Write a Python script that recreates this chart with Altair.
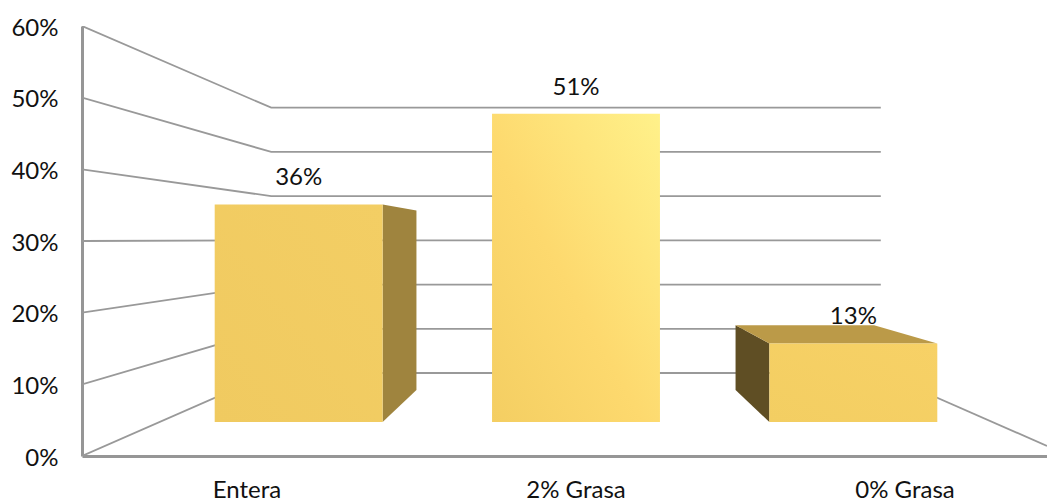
import altair as alt
import pandas as pd

categories = ["Entera", "2% Grasa", "0% Grasa"]
values = [36, 51, 13]
category_centres = [-329, 0, 329]
grid_values = [0, 10, 20, 30, 40, 50, 60]

# simple perspective: depth d in 0..1 shrinks everything toward the vanishing point
SHRINK = 0.383
FLOOR_RISE = 11.58
WALL = 494
RIGHT_EDGE = 471
BAR_HALF = 99.6
D_FRONT = 0.41
D_BACK = 0.795
HORIZON = FLOOR_RISE / SHRINK
FONT = "Lato"
GREY = "#999999"


def px(u, d):
    return u * (1 - SHRINK * d)


def py(v, d):
    return FLOOR_RISE * d + v * (1 - SHRINK * d)


x_scale = alt.Scale(domain=[-WALL, RIGHT_EDGE], zero=False, nice=False)
y_scale = alt.Scale(domain=[0, 60], zero=False, nice=False)
x_axis = alt.Axis(labels=False, ticks=False, grid=False, title=None,
                  domainColor="#969696", domainWidth=3)
y_axis = alt.Axis(values=grid_values, labelExpr="datum.value + '%'", ticks=False,
                  grid=False, title=None, domainColor="#969696", domainWidth=3,
                  labelFont=FONT, labelFontSize=24, labelColor="#111111",
                  labelPadding=24, labelOffset=2, labelFontWeight="normal")
X = alt.X("x:Q", scale=x_scale, axis=x_axis)
Y = alt.Y("y:Q", scale=y_scale, axis=y_axis)

# walls and floor
wall_rows = []
for v in grid_values:
    wall_rows += [
        {"g": v, "x": px(-WALL, 0), "y": py(v, 0)},
        {"g": v, "x": px(-WALL, 1), "y": py(v, 1)},
        {"g": v, "x": px(WALL, 1), "y": py(v, 1)},
    ]
wall_rows += [
    {"g": "r", "x": px(WALL, 1), "y": py(0, 1)},
    {"g": "r", "x": RIGHT_EDGE, "y": FLOOR_RISE * (WALL - RIGHT_EDGE) / (WALL * SHRINK)},
]
walls = alt.Chart(pd.DataFrame(wall_rows)).mark_line(
    color=GREY, strokeWidth=1.8, clip=True
).encode(x=X, y=Y, detail="g:N", order=alt.Order("x:Q"))


def fill(*stops):
    return alt.LinearGradient(
        gradient="linear", x1=0, y1=1, x2=1, y2=0,
        stops=[alt.GradientStop(color=c, offset=o) for c, o in stops],
    )


bar_fills = [
    fill(("#F0CA60", 0), ("#F3CE64", 1)),
    fill(("#F4CE62", 0), ("#FDD96E", 0.45), ("#FFF18A", 1)),
    fill(("#F3CE62", 0), ("#F7D166", 1)),
]

layers = [walls]
labels = []
for cat, val, cu, bar_fill in zip(categories, values, category_centres, bar_fills):
    ul, ur = cu - BAR_HALF, cu + BAR_HALF
    # side faces
    for edge, show in ((ur, ur < 0), (ul, ul > 0)):
        if show:
            side = pd.DataFrame([
                {"x": px(edge, d), "y": py(val, d), "y2": py(0, d)} for d in (D_FRONT, D_BACK)
            ])
            layers.append(alt.Chart(side).mark_area(
                color="#9F843E" if edge == ur else "#5F4E24"
            ).encode(x=X, y=Y, y2="y2:Q"))
    # top face
    if val < HORIZON:
        top = pd.DataFrame([
            {"y": py(val, d), "x": px(ul, d), "x2": px(ur, d)} for d in (D_FRONT, D_BACK)
        ])
        layers.append(alt.Chart(top).mark_area(color="#BB9A48", orient="horizontal").encode(
            y=Y, x=X, x2="x2:Q"))
    # front face
    front = pd.DataFrame([{
        "x": px(ul, D_FRONT), "x2": px(ur, D_FRONT), "y": py(val, D_FRONT), "y2": py(0, D_FRONT)
    }])
    layers.append(alt.Chart(front).mark_rect(color=bar_fill).encode(
        x=X, x2="x2:Q", y=Y, y2="y2:Q"))
    labels.append({"t": f"{val}%", "x": px(cu, D_FRONT), "y": py(val, D_FRONT), "c": cat,
                   "cx": cu, "cy": 0})

lab = pd.DataFrame(labels)
value_text = alt.Chart(lab).mark_text(
    font=FONT, fontSize=24, color="#111111", dy=-26
).encode(x=X, y=Y, text="t:N")
cat_text = alt.Chart(lab).mark_text(
    font=FONT, fontSize=24, color="#111111", dy=35
).encode(x=alt.X("cx:Q", scale=x_scale, axis=x_axis), y=alt.Y("cy:Q", scale=y_scale, axis=y_axis), text="c:N")

chart = alt.layer(*layers, value_text, cat_text).properties(
    width=965, height=430,
    autosize=alt.AutoSizeParams(type="none"),
    padding={"left": 74, "top": 18, "right": 0, "bottom": 46},
).configure_view(stroke=None)

chart.save("out.html", embed_options={"renderer": "svg", "actions": False})
